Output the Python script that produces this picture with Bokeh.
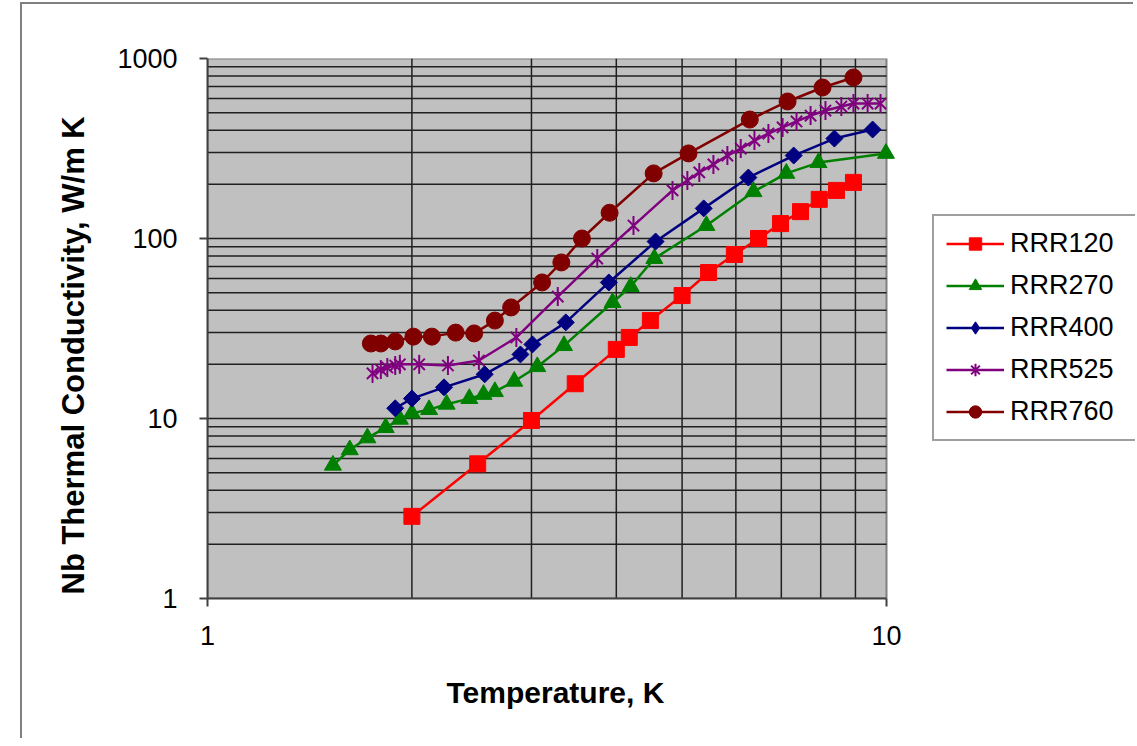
import math
from bokeh.plotting import figure
from bokeh.models import (Range1d, FixedTicker, PrintfTickFormatter, Legend, LegendItem,
                          ColumnDataSource, Title)
from bokeh.embed import file_html
from bokeh.resources import INLINE

# ---- data (Temperature K, thermal conductivity W/m K) ----
t120 = [2.0, 2.50, 3.0, 3.48, 4.0, 4.18, 4.49, 5.0, 5.47, 5.97, 6.48, 6.98, 7.47, 7.96, 8.44, 8.94]
k120 = [2.86, 5.6, 9.75, 15.6, 24.2, 28.2, 35, 48.2, 64.7, 81.5, 100, 121, 141, 165, 185, 205]

t270 = [1.53, 1.62, 1.72, 1.83, 1.92, 2.0, 2.12, 2.25, 2.43, 2.55, 2.65, 2.83, 3.06, 3.35, 3.95,
        4.2, 4.55, 5.43, 6.37, 7.12, 7.94, 9.98]
k270 = [5.5, 6.7, 7.8, 8.9, 9.9, 10.7, 11.2, 12.0, 12.9, 13.6, 14.1, 16.1, 19.4, 25.4, 44.1,
        54.1, 77.4, 118, 182, 230, 264, 297]

t400 = [1.89, 2.0, 2.23, 2.56, 2.89, 3.01, 3.37, 3.90, 4.57, 5.38, 6.26, 7.30, 8.38, 9.54]
k400 = [11.4, 12.9, 14.9, 17.6, 22.7, 25.8, 34.2, 57.0, 96.2, 147, 218, 289, 359, 403]

t525 = [1.75, 1.80, 1.84, 1.89, 1.92, 2.05, 2.26, 2.51, 2.85, 3.28, 3.75, 4.24, 4.84, 5.09, 5.30,
        5.56, 5.83, 6.10, 6.39, 6.70, 7.03, 7.37, 7.73, 8.13, 8.58, 8.94, 9.38, 9.80]
k525 = [17.8, 18.7, 19.2, 19.7, 20.0, 20.0, 19.7, 21.0, 28.2, 47.6, 77.4, 118, 185, 210, 233,
        258, 289, 316, 350, 383, 414, 447, 482, 514, 541, 562, 562, 562]

t760 = [1.74, 1.80, 1.89, 2.01, 2.14, 2.32, 2.47, 2.65, 2.80, 3.11, 3.32, 3.56, 3.91, 4.54, 5.11,
        6.29, 7.15, 8.05, 8.94]
k760 = [26.1, 26.1, 26.8, 28.5, 28.5, 30.0, 29.7, 35.0, 41.4, 57.0, 73.6, 100, 139, 230, 297,
        458, 577, 690, 784]

series_names = ["RRR120", "RRR270", "RRR400", "RRR525", "RRR760"]
x_major = [1, 10]
x_minor = [2, 3, 4, 5, 6, 7, 8, 9]
y_major = [1, 10, 100, 1000]
y_minor = [m * d for d in (1, 10, 100) for m in range(2, 10)]
x_title = "Temperature, K"
y_title = "Nb Thermal Conductivity, W/m K"

FONT = "Liberation Sans"
X0, X1 = x_major[0], x_major[-1]
Y0, Y1 = y_major[0], y_major[-1]

# the canvas frame extends to the right edge so the legend can sit beside the plot area;
# the x range is widened so that the 1..10 decade keeps its width, and the plot area is drawn as a box
FRAME_W = 1113 - 185
DECADE_PX = 679
p = figure(width=1113, height=736, x_axis_type="log", y_axis_type="log",
           x_range=Range1d(X0, X1 * 10 ** ((FRAME_W - DECADE_PX) / DECADE_PX)),
           y_range=Range1d(Y0, Y1),
           output_backend="svg", toolbar_location=None,
           min_border_left=185, min_border_right=0, min_border_top=54, min_border_bottom=142)
p.styles = {"border-left": "2px solid #808080", "border-top": "2px solid #808080",
            "margin-left": "20px", "margin-top": "2px"}

p.background_fill_color = "white"
p.border_fill_color = "white"
p.outline_line_color = None
p.xgrid.visible = False
p.ygrid.visible = False

# plot area (grey box) and grid lines
p.quad(left=[X0], right=[X1], bottom=[Y0], top=[Y1], fill_color="#c0c0c0",
       line_color="#808080", line_width=2)
p.segment(x0=x_minor, x1=x_minor, y0=[Y0] * len(x_minor), y1=[Y1] * len(x_minor),
          line_color="#202020", line_width=1.5)
hlines = y_minor + y_major[1:-1]
p.segment(x0=[X0] * len(hlines), x1=[X1] * len(hlines), y0=hlines, y1=hlines,
          line_color="#202020", line_width=1.5)

# axes
p.xaxis.ticker = FixedTicker(ticks=x_major, minor_ticks=x_minor)
p.yaxis.ticker = FixedTicker(ticks=y_major, minor_ticks=y_minor)
p.xaxis.bounds = (X0, X1)
for ax in (p.xaxis, p.yaxis):
    ax.formatter = PrintfTickFormatter(format="%d")
    ax.axis_line_color = "#404040"
    ax.axis_line_width = 2
    ax.major_tick_line_color = "#404040"
    ax.major_tick_line_width = 2
    ax.major_tick_in = 0
    ax.major_tick_out = 8
    ax.minor_tick_line_color = None
    ax.major_label_text_font = FONT
    ax.major_label_text_font_size = "27px"
    ax.major_label_text_color = "black"
p.xaxis.major_label_standoff = 19
p.yaxis.major_label_standoff = 22

# axis titles (placed as titles so they can be positioned along the plot area like the original)
p.add_layout(Title(text=x_title, align="left", offset=239, standoff=53,
                   text_font=FONT, text_font_size="30px", text_font_style="bold",
                   text_color="black"), "below")
p.add_layout(Title(text=y_title, align="left", offset=4, standoff=47,
                   text_font=FONT, text_font_size="31px", text_font_style="bold",
                   text_color="black"), "left")

# series
items = []
LW = 2.5

src = ColumnDataSource(dict(x=t120, y=k120))
l = p.line("x", "y", source=src, line_color="#ff0000", line_width=LW)
m = p.scatter("x", "y", source=src, marker="square", size=16, fill_color="#ff0000", line_color="#ff0000")
items.append(LegendItem(label=series_names[0], renderers=[l, m]))

src = ColumnDataSource(dict(x=t270, y=k270))
l = p.line("x", "y", source=src, line_color="#008000", line_width=LW)
m = p.scatter("x", "y", source=src, marker="triangle", size=17, fill_color="#008000", line_color="#008000")
items.append(LegendItem(label=series_names[1], renderers=[l, m]))

src = ColumnDataSource(dict(x=t400, y=k400))
l = p.line("x", "y", source=src, line_color="#000080", line_width=LW)
p.scatter("x", "y", source=src, marker="square", angle=math.pi / 4, size=12,
          fill_color="#000080", line_color="#000080")
# legend swatch only (size 0 in the plot; the legend sizes its own marker)
m = p.scatter("x", "y", source=src, marker="diamond", size=0,
              fill_color="#000080", line_color="#000080")
items.append(LegendItem(label=series_names[2], renderers=[l, m]))

src = ColumnDataSource(dict(x=t525, y=k525))
l = p.line("x", "y", source=src, line_color="#800080", line_width=LW)
p.scatter("x", "y", source=src, marker="x", size=16, line_color="#800080", line_width=2)
p.scatter("x", "y", source=src, marker="dash", angle=math.pi / 2, size=19,
          line_color="#800080", line_width=2)
m = p.scatter("x", "y", source=src, marker="asterisk", size=0, line_color="#800080", line_width=2)
items.append(LegendItem(label=series_names[3], renderers=[l, m]))

src = ColumnDataSource(dict(x=t760, y=k760))
l = p.line("x", "y", source=src, line_color="#800000", line_width=LW)
m = p.scatter("x", "y", source=src, marker="circle", size=17, fill_color="#800000", line_color="#800000")
items.append(LegendItem(label=series_names[4], renderers=[l, m]))

legend = Legend(items=items, location=(725, 157), orientation="vertical",
                glyph_width=58, glyph_height=31, label_height=31, label_width=114,
                spacing=11, padding=12, margin=0, label_standoff=6,
                label_text_font=FONT, label_text_font_size="27px", label_text_color="black",
                border_line_color="#404040", border_line_width=2,
                background_fill_color="white", background_fill_alpha=1.0)
p.add_layout(legend, "center")

open("out.html", "w").write(file_html(p, INLINE))
